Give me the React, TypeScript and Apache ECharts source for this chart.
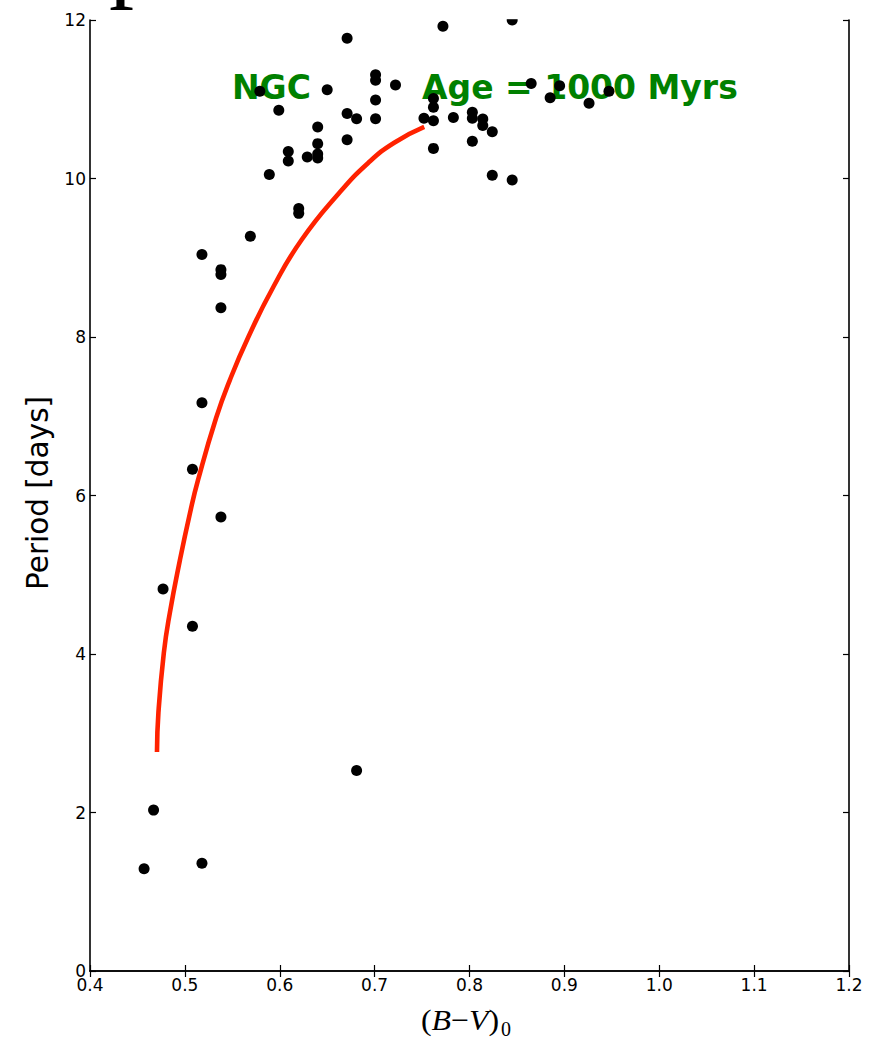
import React, { useEffect, useRef } from "react";
import * as echarts from "echarts";

// Observed stars: colour index (B-V)_0 and rotation period [days]
const starBV: number[] = [
  0.671, 0.579, 0.650, 0.701, 0.701, 0.722, 0.701, 0.599, 0.671, 0.681,
  0.701, 0.640, 0.671, 0.640, 0.609, 0.609, 0.629, 0.640, 0.640, 0.589,
  0.772, 0.845, 0.762, 0.762, 0.752, 0.762, 0.783, 0.803, 0.803, 0.814,
  0.814, 0.824, 0.803, 0.762, 0.824, 0.845, 0.865, 0.885, 0.895, 0.926,
  0.947, 0.620, 0.620, 0.569, 0.518, 0.538, 0.538, 0.538, 0.518, 0.508,
  0.538, 0.477, 0.508, 0.681, 0.467, 0.457, 0.518,
];
const starPeriod: number[] = [
  11.77, 11.10, 11.12, 11.31, 11.24, 11.18, 10.99, 10.86, 10.82, 10.755,
  10.755, 10.65, 10.49, 10.44, 10.34, 10.22, 10.27, 10.31, 10.26, 10.05,
  11.92, 12.0, 11.01, 10.90, 10.76, 10.73, 10.77, 10.835, 10.76, 10.75,
  10.67, 10.59, 10.47, 10.38, 10.04, 9.98, 11.20, 11.02, 11.17, 10.95,
  11.10, 9.62, 9.56, 9.27, 9.04, 8.85, 8.79, 8.37, 7.17, 6.33,
  5.73, 4.82, 4.35, 2.53, 2.03, 1.29, 1.36,
];

// Model isochrone (Age = 1000 Myrs)
const modelBV: number[] = [
  0.4706, 0.4721, 0.4778, 0.4841, 0.4948, 0.5054, 0.5139, 0.5329,
  0.5474, 0.5669, 0.5932, 0.6229, 0.6626, 0.6932, 0.7202, 0.7523,
];
const modelPeriod: number[] = [
  2.763, 3.256, 4.013, 4.517, 5.186, 5.779, 6.196, 6.978,
  7.457, 8.0, 8.631, 9.224, 9.817, 10.196, 10.448, 10.65,
];

const xMin = 0.4;
const xMax = 1.2;
const xStep = 0.1;
const yMin = 0;
const yMax = 12;
const yStep = 2;

const labelNGC = "NGC";
const labelAge = "Age = 1000 Myrs";
const yTitle = "Period [days]";

export default function App() {
  const ref = useRef<HTMLDivElement>(null);

  useEffect(() => {
    if (!ref.current) return;
    const chart = echarts.init(ref.current, undefined, { renderer: "svg" });

    const stars = starBV.map((x, i) => [x, starPeriod[i]]);
    const model = modelBV.map((x, i) => [x, modelPeriod[i]]);

    const axisLine = { show: true, lineStyle: { color: "#000", width: 1.6 } };
    const tick = { show: true, inside: true, length: 6, lineStyle: { color: "#000", width: 1.2 } };
    const labelFont = { fontFamily: "DejaVu Sans", fontSize: 17, color: "#000" };

    chart.setOption({
      animation: false,
      backgroundColor: "#fff",
      grid: { left: 90, right: 46, top: 20, bottom: 66, containLabel: false },
      xAxis: [
        {
          type: "value",
          min: xMin,
          max: xMax,
          interval: xStep,
          position: "bottom",
          axisLine,
          axisTick: tick,
          splitLine: { show: false },
          axisLabel: {
            ...labelFont,
            margin: 5,
            showMinLabel: true,
            showMaxLabel: true,
            formatter: (v: number) => v.toFixed(1),
          },
          z: 5,
        },
        {
          type: "value",
          min: xMin,
          max: xMax,
          interval: xStep,
          position: "top",
          axisLine,
          axisTick: tick,
          splitLine: { show: false },
          axisLabel: { show: false },
          z: 5,
        },
      ],
      yAxis: [
        {
          type: "value",
          min: yMin,
          max: yMax,
          interval: yStep,
          position: "left",
          axisLine,
          axisTick: tick,
          splitLine: { show: false },
          axisLabel: { ...labelFont, margin: 4, formatter: (v: number) => String(v) },
          z: 5,
        },
        {
          type: "value",
          min: yMin,
          max: yMax,
          interval: yStep,
          position: "right",
          axisLine,
          axisTick: tick,
          splitLine: { show: false },
          axisLabel: { show: false },
          z: 5,
        },
      ],
      graphic: [
        {
          type: "text",
          z: 0,
          x: 109,
          y: -45,
          style: {
            text: "p",
            font: '100px "Liberation Serif"',
            fill: "#000",
            textAlign: "left",
            textVerticalAlign: "middle",
          },
        },
        {
          type: "text",
          z: 0,
          x: 232,
          y: 87.5,
          style: {
            text: labelNGC,
            font: 'bold 33px "DejaVu Sans"',
            fill: "#008000",
            textAlign: "left",
            textVerticalAlign: "middle",
          },
        },
        {
          type: "text",
          z: 0,
          x: 422,
          y: 87.5,
          style: {
            text: labelAge,
            font: 'bold 33px "DejaVu Sans"',
            fill: "#008000",
            textAlign: "left",
            textVerticalAlign: "middle",
          },
        },
        {
          // mask the part of the marker that lies above the plot frame
          type: "rect",
          z: 4,
          shape: { x: 498, y: 0, width: 28, height: 19.2 },
          style: { fill: "#fff" },
        },
        {
          type: "text",
          x: 38,
          y: 493,
          rotation: Math.PI / 2,
          style: {
            text: yTitle,
            font: '29.5px "DejaVu Sans"',
            fill: "#000",
            textAlign: "center",
            textVerticalAlign: "middle",
          },
        },
        {
          type: "text",
          x: 421,
          y: 1020.5,
          scaleX: 1.08,
          style: {
            text: "{p|(}{i|B}{p|−}{i|V}{p|)}",
            fill: "#000",
            textAlign: "left",
            textVerticalAlign: "middle",
            rich: {
              p: { fontFamily: "Liberation Serif", fontSize: 29.5, fill: "#000" },
              i: { fontFamily: "Liberation Serif", fontStyle: "italic", fontSize: 29.5, fill: "#000" },
            },
          },
        },
        {
          type: "text",
          x: 501,
          y: 1028.5,
          style: {
            text: "0",
            font: '20px "Liberation Serif"',
            fill: "#000",
            textAlign: "left",
            textVerticalAlign: "middle",
          },
        },
      ],
      series: [
        {
          type: "line",
          data: model,
          xAxisIndex: 0,
          yAxisIndex: 0,
          smooth: 0.5,
          showSymbol: false,
          symbol: "none",
          lineStyle: { color: "#ff2200", width: 4.6, cap: "butt" },
          z: 2,
        },
        {
          type: "scatter",
          data: stars,
          xAxisIndex: 0,
          yAxisIndex: 0,
          symbol: "circle",
          symbolSize: 11,
          itemStyle: { color: "#000", opacity: 1 },
          z: 3,
        },
      ],
    });

    return () => chart.dispose();
  }, []);

  return (
    <div
      ref={ref}
      style={{ position: "absolute", left: 0, top: 0, width: 895, height: 1037 }}
    />
  );
}
